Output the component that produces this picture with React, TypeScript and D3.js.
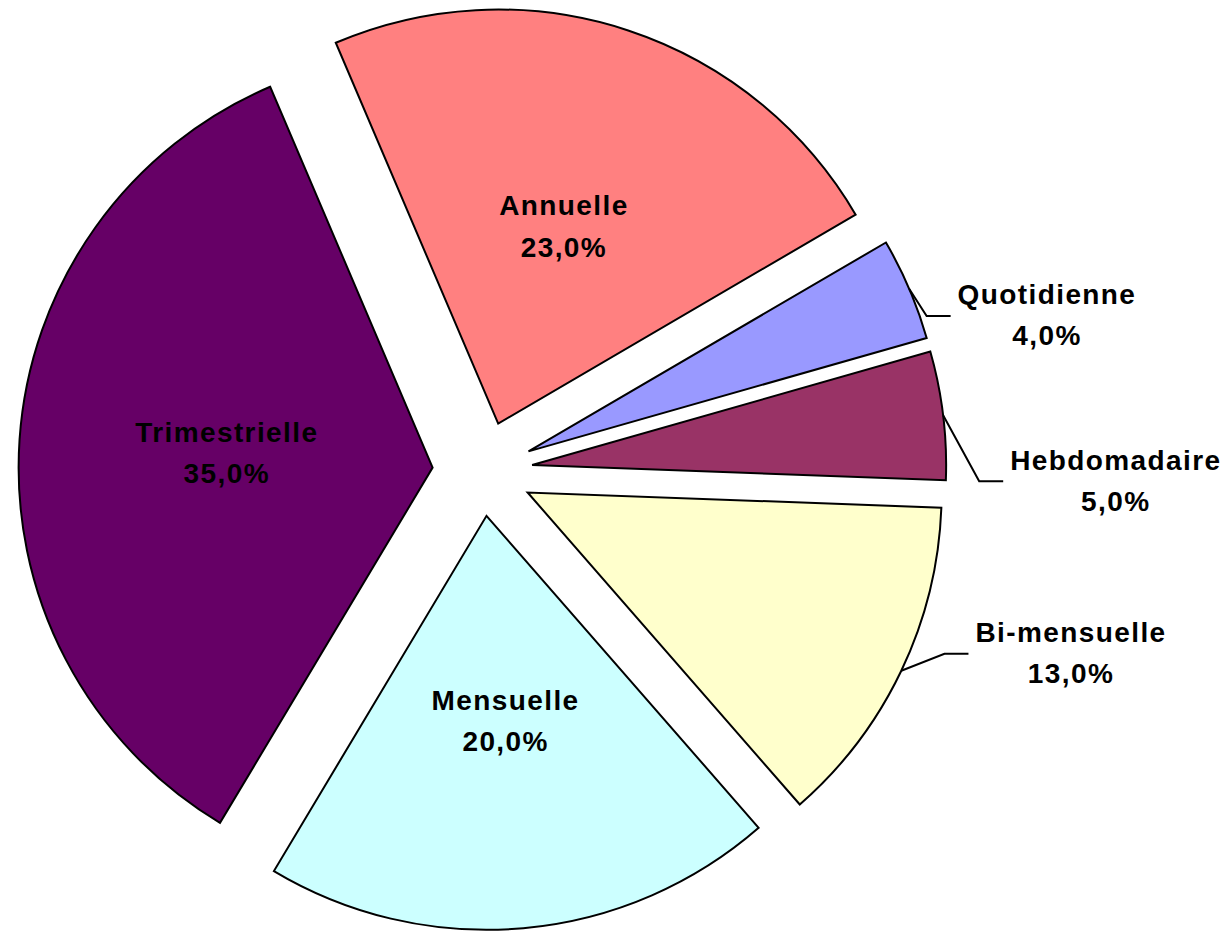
import React, { useEffect, useRef } from 'react';
import * as d3 from 'd3';

const categories = ['Annuelle', 'Quotidienne', 'Hebdomadaire', 'Bi-mensuelle', 'Mensuelle', 'Trimestrielle'];
const values = [23, 4, 5, 13, 20, 35];
const percentLabels = ['23,0%', '4,0%', '5,0%', '13,0%', '20,0%', '35,0%'];
const colors = ['#FF8080', '#9999FF', '#993366', '#FFFFCC', '#CCFFFF', '#660066'];

// layout
const width = 1228;
const height = 931;
const cx = 482.5;
const cy = 471;
const radius = 414;
const startDeg = -23.1;
const explode = [50, 50, 50, 50, 45, 50];
// label offsets (from the arc point at mid angle) for the labels drawn outside
const outsideOffset: Record<string, [number, number]> = {
    'Quotidienne': [137, 27],
    'Hebdomadaire': [172, 66],
    'Bi-mensuelle': [169, -17],
};

const App = () => {
    const svgRef = useRef<SVGSVGElement>(null);

    useEffect(() => {
        const svg = d3.select(svgRef.current);
        svg.selectAll('*').remove();

        const start = (startDeg * Math.PI) / 180;
        const pie = d3.pie<number>()
            .sort(null)
            .value(d => d)
            .startAngle(start)
            .endAngle(start + 2 * Math.PI);
        const arcs = pie(values);

        const arc = d3.arc<d3.PieArcDatum<number>>().innerRadius(0).outerRadius(radius);
        const midArc = d3.arc<d3.PieArcDatum<number>>().innerRadius(radius * 0.5).outerRadius(radius * 0.5);
        const edgeArc = d3.arc<d3.PieArcDatum<number>>().innerRadius(radius).outerRadius(radius);

        const slices = svg.append('g')
            .selectAll('g')
            .data(arcs)
            .join('g')
            .attr('transform', (d, i) => {
                const mid = (d.startAngle + d.endAngle) / 2;
                return `translate(${cx + Math.sin(mid) * explode[i]},${cy - Math.cos(mid) * explode[i]})`;
            });

        slices.append('path')
            .attr('d', arc)
            .attr('fill', (d, i) => colors[i])
            .attr('stroke', '#000')
            .attr('stroke-width', 2);

        const font = (t: d3.Selection<SVGTextElement, any, any, any>) => t
            .attr('font-family', '"Liberation Sans", Arial, sans-serif')
            .attr('font-weight', 'bold')
            .attr('font-size', 28)
            .attr('letter-spacing', 1.4)
            .attr('text-anchor', 'middle')
            .attr('fill', '#000');

        slices.each(function (d, i) {
            const g = d3.select(this);
            const name = categories[i];
            const off = outsideOffset[name];
            let lx: number, ly: number;
            if (off) {
                const [ex, ey] = edgeArc.centroid(d);
                lx = ex + off[0];
                ly = ey + off[1];
            } else {
                [lx, ly] = midArc.centroid(d);
            }
            const text = g.append('text').call(font);
            text.append('tspan').attr('x', lx + 0.7).attr('y', ly - 11.6).text(name);
            text.append('tspan').attr('x', lx + 0.7).attr('y', ly + 29.5).text(percentLabels[i]);

            if (off) {
                const [ex, ey] = edgeArc.centroid(d);
                const box = (text.node() as SVGTextElement).getBBox();
                const left = box.x;
                g.insert('path', 'text')
                    .attr('d', d3.line()([[ex, ey], [left - 31, ly], [left - 7, ly]]))
                    .attr('fill', 'none')
                    .attr('stroke', '#000')
                    .attr('stroke-width', 2);
            }
        });
    }, []);

    return (
        <div style={{ position: 'absolute', left: 0, top: 0 }}>
            <svg ref={svgRef} width={width} height={height} viewBox={`0 0 ${width} ${height}`} style={{ display: 'block', background: '#fff' }}></svg>
        </div>
    );
};

export default App;
